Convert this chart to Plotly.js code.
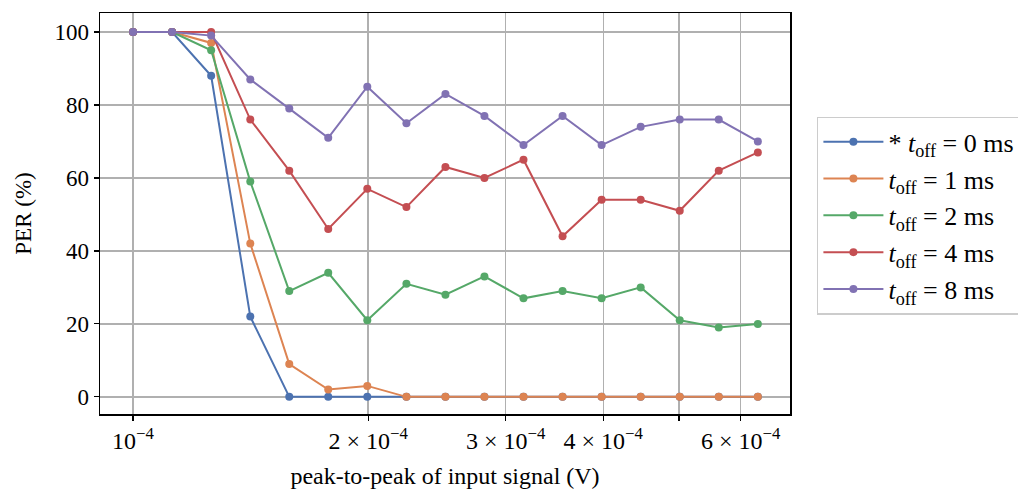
<!DOCTYPE html>
<html>
<head>
<meta charset="utf-8">
<script src="https://cdn.plot.ly/plotly-3.0.1.min.js"></script>
<style>html,body{margin:0;padding:0;background:#fff;}#chart{width:1018px;height:490px;}</style>
</head>
<body>
<div id="chart"></div>
<script>
const xValues = [1.000e-4, 1.122e-4, 1.259e-4, 1.413e-4, 1.585e-4, 1.778e-4, 1.995e-4, 2.239e-4, 2.512e-4, 2.818e-4, 3.162e-4, 3.548e-4, 3.981e-4, 4.467e-4, 5.012e-4, 5.623e-4, 6.310e-4];
const seriesNames = ['* <i>t</i><sub>off</sub> = 0 ms', '<i>t</i><sub>off</sub> = 1 ms', '<i>t</i><sub>off</sub> = 2 ms', '<i>t</i><sub>off</sub> = 4 ms', '<i>t</i><sub>off</sub> = 8 ms'];
const per0ms = [100, 100, 88, 22, 0, 0, 0, 0, 0, 0, 0, 0, 0, 0, 0, 0, 0];
const per1ms = [100, 100, 97, 42, 9, 2, 3, 0, 0, 0, 0, 0, 0, 0, 0, 0, 0];
const per2ms = [100, 100, 95, 59, 29, 34, 21, 31, 28, 33, 27, 29, 27, 30, 21, 19, 20];
const per4ms = [100, 100, 100, 76, 62, 46, 57, 52, 63, 60, 65, 44, 54, 54, 51, 62, 67];
const per8ms = [100, 100, 99, 87, 79, 71, 85, 75, 83, 77, 69, 77, 69, 74, 76, 76, 70];
const xTickVals = [1e-4, 2e-4, 3e-4, 4e-4, 5e-4, 6e-4];
const xTickText = ['10<sup>−4</sup>', '2 × 10<sup>−4</sup>', '3 × 10<sup>−4</sup>', '4 × 10<sup>−4</sup>', '', '6 × 10<sup>−4</sup>'];
const yTickVals = [0, 20, 40, 60, 80, 100];

const colors = ['#4c72b0', '#dd8452', '#55a868', '#c44e52', '#8172b3'];
const allSeries = [per0ms, per1ms, per2ms, per4ms, per8ms];
const FONT = 'Liberation Serif, DejaVu Serif, serif';

const traces = allSeries.map((ys, i) => ({
  x: xValues, y: ys, name: seriesNames[i], type: 'scatter', mode: 'lines+markers',
  line: {color: colors[i], width: 2},
  marker: {color: colors[i], size: 8}
}));

const layout = {
  width: 1018, height: 490,
  margin: {l: 100, r: 228, t: 13, b: 76, autoexpand: false},
  paper_bgcolor: '#fff', plot_bgcolor: '#fff',
  font: {family: FONT, size: 23, color: '#000'},
  showlegend: true,
  legend: {
    x: 1.039, xanchor: 'left', y: 0.741, yanchor: 'top',
    bordercolor: '#cccccc', borderwidth: 1.5, bgcolor: '#fff',
    font: {family: FONT, size: 26},
    itemwidth: 60,
    tracegroupgap: 0
  },
  xaxis: {
    type: 'log', range: [-4.0423, -3.1588],
    tickvals: xTickVals, ticktext: xTickText,
    ticks: 'outside', ticklen: 5, tickwidth: 1.2, tickcolor: '#000',
    showgrid: true, gridcolor: '#b0b0b0', gridwidth: 1.3,
    showline: true, linecolor: '#000', linewidth: 1.5, mirror: true,
    zeroline: false,
    tickfont: {family: FONT, size: 24},
    title: {text: 'peak-to-peak of input signal (V)', font: {family: FONT, size: 24}, standoff: 14}
  },
  yaxis: {
    range: [-4.7, 105.2],
    tickvals: yTickVals,
    ticks: 'outside', ticklen: 5, tickwidth: 1.2, tickcolor: '#000',
    showgrid: true, gridcolor: '#b0b0b0', gridwidth: 1.3,
    showline: true, linecolor: '#000', linewidth: 1.5, mirror: true,
    zeroline: false,
    tickfont: {family: FONT, size: 23},
    title: {text: 'PER (%)', font: {family: FONT, size: 23}, standoff: 16}
  }
};

Plotly.newPlot('chart', traces, layout, {displayModeBar: false, staticPlot: true});
</script>
</body>
</html>
